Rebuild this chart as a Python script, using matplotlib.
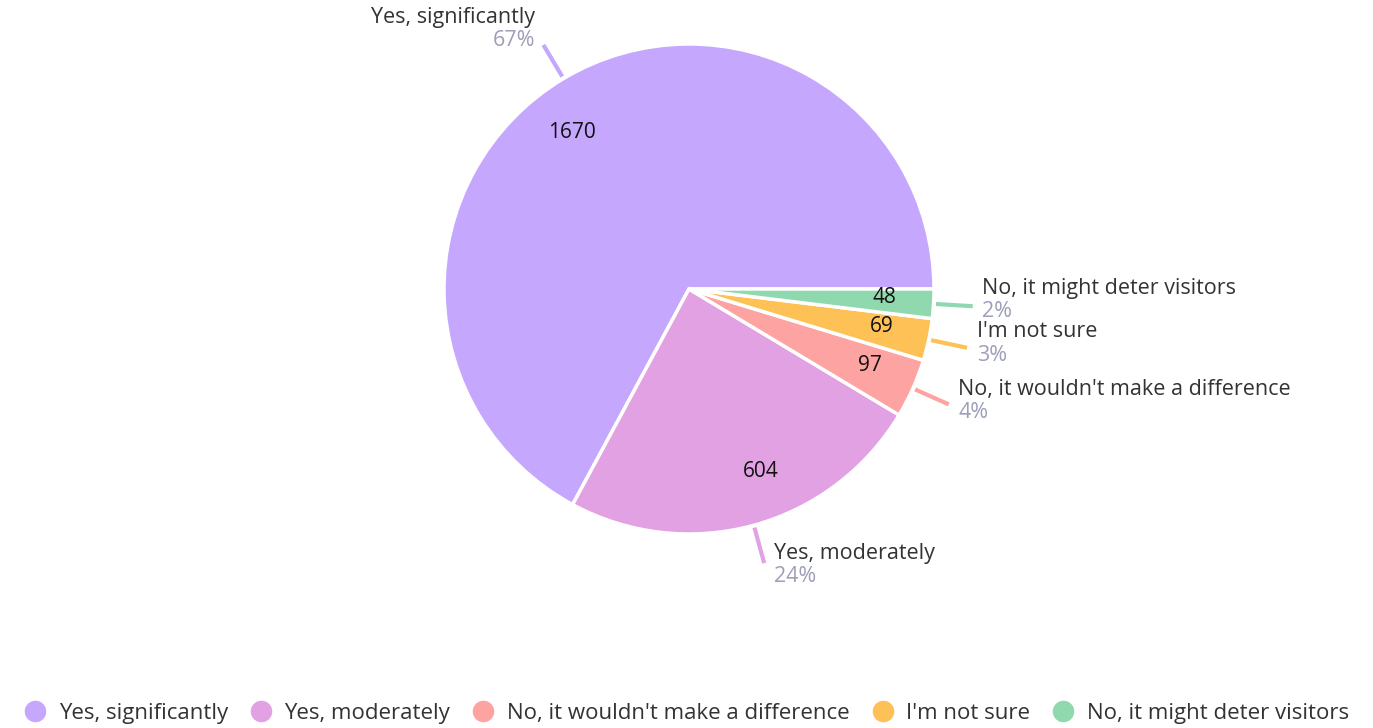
import numpy as np
import matplotlib.pyplot as plt
from matplotlib.lines import Line2D

plt.rcParams['font.family'] = ['Open Sans', 'DejaVu Sans']

labels = ["Yes, significantly", "Yes, moderately", "No, it wouldn't make a difference",
          "I'm not sure", "No, it might deter visitors"]
counts = [1670, 604, 97, 69, 48]
colors = ['#c5a7fd', '#e2a1e2', '#fda4a3', '#fec156', '#90d9ae']

W, H = 1373, 728
fig = plt.figure(figsize=(W / 100, H / 100), dpi=100)
cx, cy, r = 689, 289, 245
ax = fig.add_axes([(cx - r) / W, (H - cy - r) / H, 2 * r / W, 2 * r / H])

wedges, _ = ax.pie(counts, colors=colors, startangle=0, counterclock=True,
                   radius=1, wedgeprops=dict(edgecolor='white', linewidth=2.5))
ax.set_xlim(-1, 1)
ax.set_ylim(-1, 1)
ax.set_aspect('equal')
ax.axis('off')

total = sum(counts)
for w, lab, n, col in zip(wedges, labels, counts, colors):
    span = w.theta2 - w.theta1
    mid = np.deg2rad((w.theta1 + w.theta2) / 2)
    c, s = np.cos(mid), np.sin(mid)
    # count inside the slice (big slices get their number nudged a bit)
    lm = mid + np.deg2rad(6 if span > 50 else 1)
    ax.text(0.8 * np.cos(lm), 0.8 * np.sin(lm), str(n), ha='center', va='center',
            fontsize=15, color='#111111')
    # leader line
    x0, y0 = 1.01 * c, 1.01 * s
    x1, y1 = 1.16 * c, 1.16 * s
    ax.plot([x0, x1], [y0, y1], color=col, lw=3, solid_capstyle='butt', clip_on=False)
    pct = f"{round(100 * n / total)}%"
    kw = dict(textcoords='offset points', va='center', fontsize=15.5, annotation_clip=False)
    if c < 0:
        ax.annotate(lab, (x1, y1), xytext=(-6, 20), ha='right', color='#333333', **kw)
        ax.annotate(pct, (x1, y1), xytext=(-6, 3), ha='right', color='#9e9eb9', **kw)
    else:
        if s < -0.5:
            dy = 7
        elif s < -0.3:
            dy = 11
        elif s < -0.1:
            dy = 11.5
        else:
            dy = 13
        ax.annotate(lab, (x1, y1), xytext=(7, dy), ha='left', color='#333333', **kw)
        ax.annotate(pct, (x1, y1), xytext=(7, dy - 17), ha='left', color='#9e9eb9', **kw)

handles = [Line2D([], [], marker='o', linestyle='none', markersize=14.5,
                  markerfacecolor=col, markeredgecolor=col) for col in colors]
fig.legend(handles, labels, loc='lower center', ncol=5, frameon=False,
           fontsize=16, labelcolor='#333333', handlelength=1.0, handletextpad=0.55,
           columnspacing=1.0, bbox_to_anchor=(0.5, -0.022))

fig.savefig('out.png', dpi=100, facecolor='white')
